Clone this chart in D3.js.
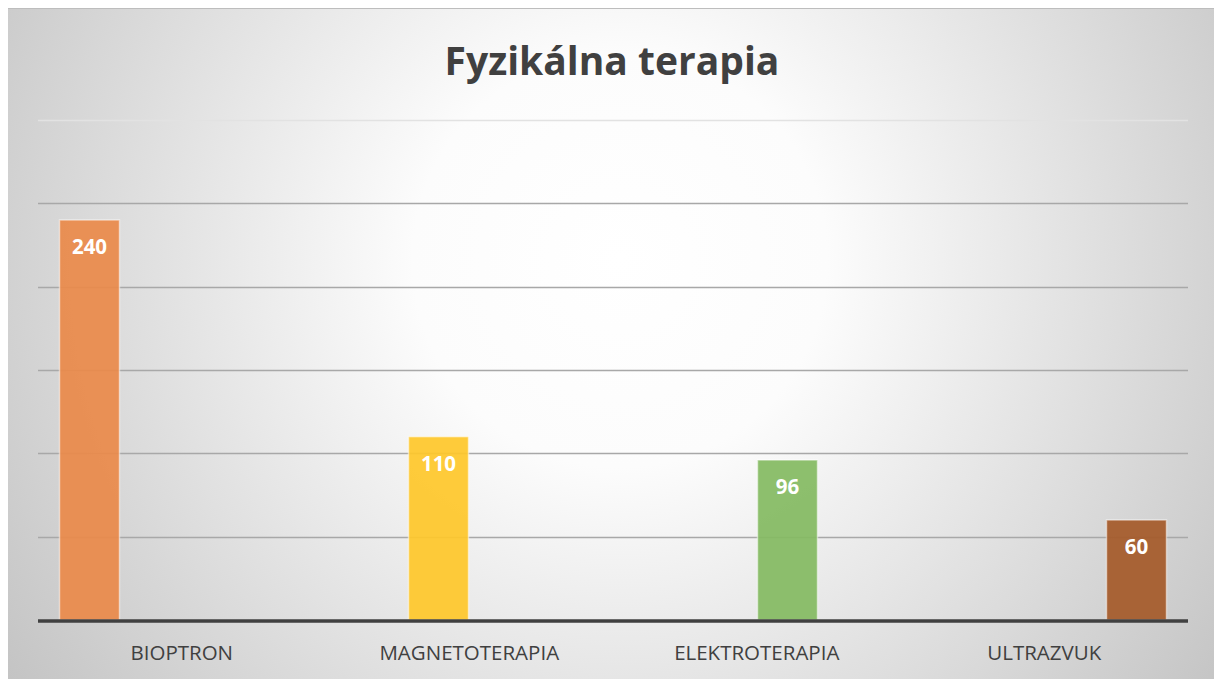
<!DOCTYPE html>
<html>
<head>
<meta charset="utf-8">
<title>Fyzikálna terapia</title>
<script src="https://d3js.org/d3.v7.min.js"></script>
<style>
  body { margin: 0; background: #fff; }
  svg { display: block; }
</style>
</head>
<body>
<div id="chart"></div>
<script>
var categories = ["BIOPTRON", "MAGNETOTERAPIA", "ELEKTROTERAPIA", "ULTRAZVUK"];
var values = [240, 110, 96, 60];
var colors = ["#e98a4a", "#fec72b", "#84ba62", "#a55a2a"];
var yTicks = [0, 50, 100, 150, 200, 250, 300];

var width = 1214, height = 679;
var margin = {top: 120, right: 26, bottom: 59, left: 38};

var svg = d3.select("#chart").append("svg")
    .attr("width", width)
    .attr("height", height);

var defs = svg.append("defs");
var grad = defs.append("radialGradient")
    .attr("id", "bg")
    .attr("gradientUnits", "userSpaceOnUse")
    .attr("cx", 620).attr("cy", 260).attr("r", 740);
grad.append("stop").attr("offset", "0%").attr("stop-color", "#ffffff");
grad.append("stop").attr("offset", "28%").attr("stop-color", "#fcfcfc");
grad.append("stop").attr("offset", "100%").attr("stop-color", "#c4c4c4");

svg.append("rect")
    .attr("x", 8).attr("y", 8)
    .attr("width", width - 8).attr("height", height - 8)
    .attr("fill", "url(#bg)");
svg.append("line")
    .attr("x1", 8).attr("x2", width).attr("y1", 8.5).attr("y2", 8.5)
    .attr("stroke", "#bdbdbd");

svg.append("text")
    .attr("x", 612)
    .attr("y", 75)
    .attr("text-anchor", "middle")
    .style("font-family", "'Open Sans', sans-serif")
    .style("font-weight", "bold")
    .style("font-size", "39px")
    .style("fill", "#404040")
    .text("Fyzikálna terapia");

var x = d3.scaleBand()
    .domain(categories)
    .range([margin.left, width - margin.right]);

var slot = d3.scaleBand()
    .domain(d3.range(categories.length))
    .range([0, x.bandwidth()])
    .paddingInner(0.025)
    .paddingOuter(0.35);

var y = d3.scaleLinear()
    .domain([0, 300])
    .range([height - margin.bottom, margin.top]);

var g = svg.append("g");

// gridlines
g.selectAll(".grid")
    .data(yTicks.filter(function(d) { return d > 0; }))
    .enter().append("line")
    .attr("class", "grid")
    .attr("x1", margin.left)
    .attr("x2", width - margin.right)
    .attr("y1", function(d) { return Math.round(y(d)) + 0.5; })
    .attr("y2", function(d) { return Math.round(y(d)) + 0.5; })
    .attr("stroke", function(d) { return d === 300 ? "#e2e2e2" : "#a8a8a8"; })
    .attr("stroke-width", 1.3);

// bars, each series sits in its own slot of its category
var bars = g.selectAll(".bar")
    .data(values)
    .enter().append("g")
    .attr("class", "bar");

bars.append("rect")
    .attr("x", function(d, i) { return x(categories[i]) + slot(i); })
    .attr("y", function(d) { return y(d); })
    .attr("width", slot.bandwidth())
    .attr("height", function(d) { return y(0) - y(d); })
    .attr("fill", function(d, i) { return colors[i]; })
    .attr("fill-opacity", 0.93)
    .attr("stroke", "#ffffff")
    .attr("stroke-opacity", 0.5)
    .attr("stroke-width", 1.5);

bars.append("text")
    .attr("x", function(d, i) { return x(categories[i]) + slot(i) + slot.bandwidth() / 2; })
    .attr("y", function(d) { return y(d) + 34; })
    .attr("text-anchor", "middle")
    .style("font-family", "'Open Sans', sans-serif")
    .style("font-weight", "bold")
    .style("font-size", "20.5px")
    .style("fill", "#ffffff")
    .text(function(d) { return d; });

// axis line
g.append("line")
    .attr("x1", margin.left)
    .attr("x2", width - margin.right)
    .attr("y1", y(0) + 1)
    .attr("y2", y(0) + 1)
    .attr("stroke", "#404040")
    .attr("stroke-width", 3.5);

var xAxis = d3.axisBottom(x).tickSize(0).tickPadding(22);
var ax = g.append("g")
    .attr("transform", "translate(0," + (y(0) + 3) + ")")
    .call(xAxis);
ax.select(".domain").remove();
ax.selectAll("text")
    .style("font-family", "'Open Sans', sans-serif")
    .style("font-size", "20.5px")
    .style("fill", "#404040");
</script>
</body>
</html>
